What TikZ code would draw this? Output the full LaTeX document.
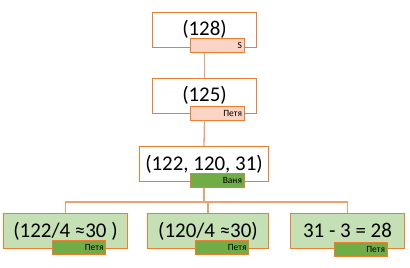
\documentclass[tikz,border=0pt]{standalone}
\usepackage{fontspec}
\setmainfont{Carlito}
\definecolor{boxorange}{RGB}{237,125,49}
\definecolor{lineorange}{RGB}{240,160,110}
\definecolor{tagpink}{RGB}{250,212,196}
\definecolor{leafgreen}{RGB}{197,224,180}
\definecolor{taggreen}{RGB}{112,173,71}
\usetikzlibrary{positioning}

\begin{document}
\begin{tikzpicture}[x=1bp,y=-1bp,
        state/.style={draw=boxorange,line width=1bp,minimum width=103bp,minimum height=35bp,
          inner sep=0pt,font=\fontsize{21}{22}\selectfont,fill=white},
        leaf/.style={state,fill=leafgreen},
        tag/.style={draw=boxorange,line width=1bp,text width=49bp,inner xsep=2bp,inner ysep=0pt,
          minimum height=14bp,align=right,font=\fontsize{9.5}{10}\selectfont},
        conn/.style={draw=lineorange,line width=1.3bp}]
        \useasboundingbox (0,0) rectangle (410,268);
        % game states
        \node[state] (s1) at (204.5,29.5) {(128)};
        \node[state] (s2) at (204.5,95.5) {(125)};
        \node[state,minimum width=128bp] (s3) at (204,164) {(122, 120, 31)};
        \node[leaf,minimum width=123bp] (l1) at (65.5,231) {(122/4 ≈30 )};
        \node[leaf,minimum width=120bp] (l2) at (208,231) {(120/4 ≈30)};
        \node[leaf,minimum width=113bp] (l3) at (347.5,230.5) {31 - 3 = 28};
        % who moves
        \node[tag,fill=tagpink] (t1) at (217.5,45) {S};
        \node[tag,fill=tagpink] (t2) at (217.5,113) {Петя};
        \node[tag,fill=taggreen] (t3) at (217.5,180) {Ваня};
        \node[tag,fill=taggreen] (t4) at (79,247) {Петя};
        \node[tag,fill=taggreen] (t5) at (222,247) {Петя};
        \node[tag,fill=taggreen] (t6) at (360.5,249) {Петя};
        % moves
        \draw[conn] (s1.south|-t1.south) -- (s2.north);
        \draw[conn] (s2.south|-t2.south) -- (s3.north);
        \coordinate (fork) at (204,202);
        \draw[conn] (s3.south|-t3.south) -- (fork);
        \draw[conn] (fork) -| (l1.north);
        \draw[conn] (fork) -| (l2.north);
        \draw[conn] (fork) -| (l3.north);
\end{tikzpicture}
\end{document}
